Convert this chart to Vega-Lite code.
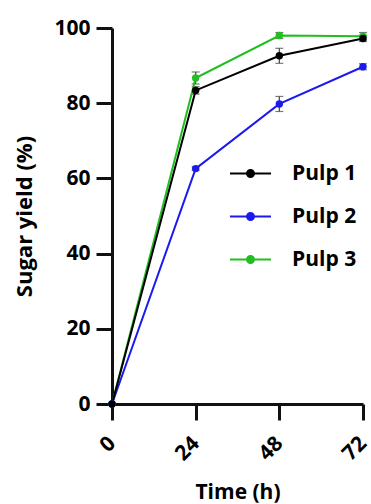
{
  "$schema": "https://vega.github.io/schema/vega-lite/v6.json",
  "width": 251,
  "height": 376,
  "autosize": "none",
  "padding": {"left": 112, "top": 28, "right": 8, "bottom": 100},
  "config": {
    "view": {"stroke": null},
    "font": "Open Sans"
  },
  "data": {
    "values": [
      {"time": 0, "pulp": "Pulp 3", "yield": 0, "lo": 0, "hi": 0},
      {"time": 24, "pulp": "Pulp 3", "yield": 86.7, "lo": 85.1, "hi": 88.3},
      {"time": 48, "pulp": "Pulp 3", "yield": 98.0, "lo": 97.2, "hi": 98.8},
      {"time": 72, "pulp": "Pulp 3", "yield": 97.8, "lo": 96.8, "hi": 98.8},
      {"time": 0, "pulp": "Pulp 2", "yield": 0, "lo": 0, "hi": 0},
      {"time": 24, "pulp": "Pulp 2", "yield": 62.6, "lo": 62.1, "hi": 63.1},
      {"time": 48, "pulp": "Pulp 2", "yield": 79.8, "lo": 77.8, "hi": 81.8},
      {"time": 72, "pulp": "Pulp 2", "yield": 89.7, "lo": 88.9, "hi": 90.5},
      {"time": 0, "pulp": "Pulp 1", "yield": 0, "lo": 0, "hi": 0},
      {"time": 24, "pulp": "Pulp 1", "yield": 83.4, "lo": 82.4, "hi": 84.4},
      {"time": 48, "pulp": "Pulp 1", "yield": 92.6, "lo": 90.6, "hi": 94.6},
      {"time": 72, "pulp": "Pulp 1", "yield": 97.2, "lo": 96.4, "hi": 98.0}
    ]
  },
  "layer": [
    {
      "mark": {"type": "rule", "color": "#444", "strokeWidth": 1.2},
      "encoding": {
        "x": {"field": "time", "type": "quantitative", "title": "Time (h)", "scale": {"domain": [0, 72], "nice": false},
          "axis": {"values": [0, 24, 48, 72], "grid": false, "domain": true, "domainColor": "#111111", "domainWidth": 3, "ticks": true, "tickColor": "#111111", "tickWidth": 3, "tickSize": 16,
            "labelAngle": -45, "labelAlign": "right", "labelBaseline": "middle", "labelPadding": 20, "labelColor": "#000000", "labelFontSize": 21, "labelFontWeight": "bold",
            "titlePadding": 17, "titleColor": "#000000", "titleFontSize": 21, "titleFontWeight": "bold"}},
        "y": {"field": "lo", "type": "quantitative", "title": "Sugar yield (%)", "scale": {"domain": [0, 100], "nice": false},
          "axis": {"values": [0, 10, 20, 30, 40, 50, 60, 70, 80, 90, 100], "labelExpr": "datum.value % 20 === 0 ? datum.label : ''", "grid": false, "domain": true, "domainColor": "#111111", "domainWidth": 3, "ticks": true, "tickColor": "#111111", "tickWidth": 3, "tickSize": 16,
            "tickDash": {"condition": {"test": "datum.value % 20 !== 0", "value": [9, 40]}, "value": [40, 0]},
            "labelPadding": 6, "labelColor": "#000000", "labelFontSize": 21, "labelFontWeight": "bold",
            "titlePadding": 17, "titleColor": "#000000", "titleFontSize": 22, "titleFontWeight": "bold"}},
        "y2": {"field": "hi"}
      }
    },
    {
      "mark": {"type": "tick", "color": "#444", "thickness": 1.2, "size": 8, "orient": "horizontal"},
      "encoding": {
        "x": {"field": "time", "type": "quantitative", "title": "Time (h)"},
        "y": {"field": "lo", "type": "quantitative", "title": "Sugar yield (%)"}
      }
    },
    {
      "mark": {"type": "tick", "color": "#444", "thickness": 1.2, "size": 8, "orient": "horizontal"},
      "encoding": {
        "x": {"field": "time", "type": "quantitative", "title": "Time (h)"},
        "y": {"field": "hi", "type": "quantitative", "title": "Sugar yield (%)"}
      }
    },
    {
      "encoding": {
        "x": {"field": "time", "type": "quantitative", "title": "Time (h)"},
        "y": {"field": "yield", "type": "quantitative", "title": "Sugar yield (%)"},
        "color": {
          "field": "pulp", "type": "nominal",
          "scale": {"domain": ["Pulp 1", "Pulp 2", "Pulp 3"], "range": ["#000000", "#1a1aee", "#1fbf1f"]},
          "legend": {
            "orient": "none", "legendX": 117, "legendY": 124, "title": null,
            "symbolType": "M-1,0H1M-0.17,0A0.17,0.17,0,1,1,0.17,0A0.17,0.17,0,1,1,-0.17,0Z",
            "symbolSize": 1681, "symbolStrokeWidth": 2,
            "labelFontSize": 21, "labelFontWeight": "bold", "labelColor": "black", "labelOffset": 20, "rowPadding": 11,
            "encode": {"symbols": {"update": {"fill": {"scale": "color", "field": "value"}, "stroke": {"scale": "color", "field": "value"}}}}
          }
        }
      },
      "layer": [
        {"mark": {"type": "line", "strokeWidth": 2}},
        {"mark": {"type": "point", "filled": true, "size": 55, "opacity": 1}, "encoding": {"order": {"field": "pulp", "sort": "descending"}}}
      ]
    }
  ]
}
